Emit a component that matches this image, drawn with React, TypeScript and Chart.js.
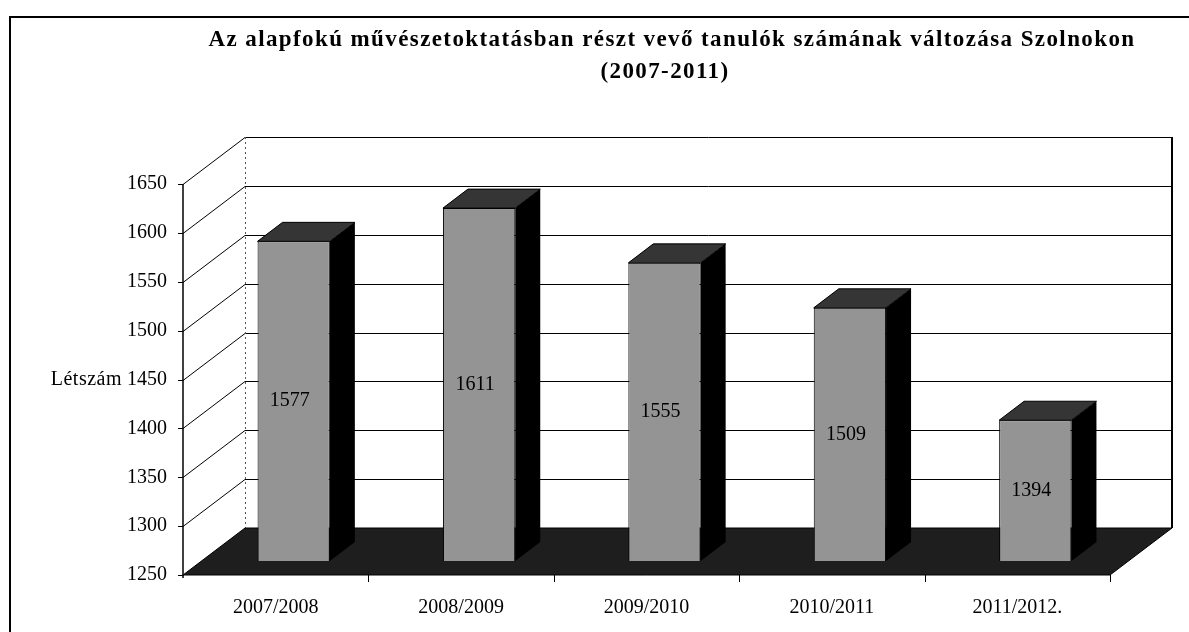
import React, { useEffect, useRef } from "react";
import { Chart, registerables } from "chart.js";

Chart.register(...registerables);

const TITLE_LINES = [
  "Az alapfokú művészetoktatásban részt vevő tanulók számának változása Szolnokon",
  "(2007-2011)",
];
const Y_TITLE = "Létszám";
const CATEGORIES = ["2007/2008", "2008/2009", "2009/2010", "2010/2011", "2011/2012."];
const VALUES = [1577, 1611, 1555, 1509, 1394];
const Y_MIN = 1250;
const Y_MAX = 1650;
const Y_STEP = 50;

const FONT = '"Liberation Serif", "Times New Roman", serif';
const WALL_DX = 62;
const WALL_DY = -47;
const BAR_DX = 18;
const BAR_DY = -14;
const BAR_DEPTH_X = 25;
const BAR_DEPTH_Y = -19;

const scenePlugin = {
  id: "scene3d",
  beforeDatasetsDraw(chart: any) {
    const { ctx, chartArea } = chart;
    const ys = chart.scales.y;
    const xs = chart.scales.x;
    const { left, right } = chartArea;
    const top = ys.getPixelForValue(Y_MAX);
    const bottom = ys.getPixelForValue(Y_MIN);
    ctx.save();
    ctx.fillStyle = "#ffffff";
    ctx.fillRect(left + WALL_DX, top + WALL_DY, right - left, bottom - top);
    ctx.strokeStyle = "#000";
    ctx.lineWidth = 1;
    ys.ticks.forEach((t: any) => {
      if (t.value <= Y_MIN) return;
      const y = Math.round(ys.getPixelForValue(t.value)) + 0.5;
      ctx.beginPath();
      ctx.moveTo(left + WALL_DX, y + WALL_DY);
      ctx.lineTo(right + WALL_DX, y + WALL_DY);
      ctx.stroke();
      ctx.beginPath();
      ctx.moveTo(left, y);
      ctx.lineTo(left + WALL_DX, y + WALL_DY);
      ctx.stroke();
    });
    ctx.save();
    ctx.setLineDash([2, 3]);
    ctx.strokeStyle = "#555";
    ctx.beginPath();
    ctx.moveTo(left + WALL_DX + 0.5, top + WALL_DY);
    ctx.lineTo(left + WALL_DX + 0.5, bottom + WALL_DY);
    ctx.stroke();
    ctx.restore();
    ctx.lineWidth = 2;
    ctx.beginPath();
    ctx.moveTo(right + WALL_DX, top + WALL_DY);
    ctx.lineTo(right + WALL_DX, bottom + WALL_DY);
    ctx.stroke();
    ctx.fillStyle = "#1e1e1e";
    ctx.beginPath();
    ctx.moveTo(left, bottom);
    ctx.lineTo(right, bottom);
    ctx.lineTo(right + WALL_DX, bottom + WALL_DY);
    ctx.lineTo(left + WALL_DX, bottom + WALL_DY);
    ctx.closePath();
    ctx.fill();
    ctx.lineWidth = 1;
    ctx.stroke();
    ctx.lineWidth = 1.5;
    ctx.beginPath();
    ctx.moveTo(left, top);
    ctx.lineTo(left, bottom + 3);
    ctx.stroke();
    ctx.lineWidth = 1;
    ys.ticks.forEach((t: any) => {
      const y = Math.round(ys.getPixelForValue(t.value)) + 0.5;
      ctx.beginPath();
      ctx.moveTo(left - 5, y);
      ctx.lineTo(left, y);
      ctx.stroke();
    });
    const n = CATEGORIES.length;
    for (let i = 1; i <= n; i++) {
      const x = i < n ? (xs.getPixelForValue(i - 1) + xs.getPixelForValue(i)) / 2 : right;
      ctx.beginPath();
      ctx.moveTo(Math.round(x) + 0.5, bottom);
      ctx.lineTo(Math.round(x) + 0.5, bottom + 7);
      ctx.stroke();
    }
    ctx.restore();
    ctx.save();
    ctx.translate(BAR_DX, BAR_DY);
  },
  afterDatasetsDraw(chart: any) {
    const { ctx } = chart;
    ctx.restore();
    const ys = chart.scales.y;
    const meta = chart.getDatasetMeta(0);
    const basePx = ys.getPixelForValue(Y_MIN);
    ctx.save();
    meta.data.forEach((el: any, i: number) => {
      const x1 = el.x - el.width / 2 + BAR_DX;
      const x2 = el.x + el.width / 2 + BAR_DX;
      const yTop = ys.getPixelForValue(VALUES[i]) + BAR_DY;
      const yBase = basePx + BAR_DY;
      ctx.fillStyle = "#000";
      ctx.beginPath();
      ctx.moveTo(x2, yTop);
      ctx.lineTo(x2 + BAR_DEPTH_X, yTop + BAR_DEPTH_Y);
      ctx.lineTo(x2 + BAR_DEPTH_X, yBase + BAR_DEPTH_Y);
      ctx.lineTo(x2, yBase);
      ctx.closePath();
      ctx.fill();
      ctx.fillStyle = "#353535";
      ctx.strokeStyle = "#000";
      ctx.lineWidth = 1;
      ctx.beginPath();
      ctx.moveTo(x1, yTop);
      ctx.lineTo(x2, yTop);
      ctx.lineTo(x2 + BAR_DEPTH_X, yTop + BAR_DEPTH_Y);
      ctx.lineTo(x1 + BAR_DEPTH_X, yTop + BAR_DEPTH_Y);
      ctx.closePath();
      ctx.fill();
      ctx.stroke();
      ctx.fillStyle = "#000";
      ctx.font = `20px ${FONT}`;
      ctx.textAlign = "center";
      ctx.textBaseline = "middle";
      ctx.fillText(String(VALUES[i]), (x1 + x2) / 2 - 4, (yTop + yBase) / 2);
    });
    ctx.restore();
  },
  afterDraw(chart: any) {
    const { ctx } = chart;
    const ys = chart.scales.y;
    ctx.save();
    ctx.strokeStyle = "#000";
    ctx.lineWidth = 2;
    ctx.beginPath();
    ctx.moveTo(10, 632);
    ctx.lineTo(10, 17);
    ctx.lineTo(1189, 17);
    ctx.stroke();
    ctx.fillStyle = "#000";
    ctx.font = `bold 23px ${FONT}`;
    (ctx as any).letterSpacing = "1.4px";
    ctx.textAlign = "center";
    ctx.textBaseline = "middle";
    ctx.fillText(TITLE_LINES[0], 672, 40);
    ctx.fillText(TITLE_LINES[1], 665, 72);
    (ctx as any).letterSpacing = "0.5px";
    ctx.font = `20px ${FONT}`;
    ctx.textAlign = "right";
    ctx.fillText(Y_TITLE, 122, ys.getPixelForValue(1450));
    ctx.restore();
  },
};

export default function App() {
  const ref = useRef<HTMLCanvasElement>(null);
  useEffect(() => {
    if (!ref.current) return;
    Chart.defaults.font.family = FONT;
    const chart = new Chart(ref.current, {
      type: "bar",
      data: {
        labels: CATEGORIES,
        datasets: [
          {
            data: VALUES,
            backgroundColor: "#949494",
            borderColor: "#000",
            borderWidth: 1,
            barPercentage: 0.39,
            categoryPercentage: 1,
          },
        ],
      },
      options: {
        responsive: false,
        animation: false,
        events: [],
        layout: { padding: { top: 184, left: 0, right: 79, bottom: 0 } },
        plugins: { legend: { display: false }, title: { display: false }, tooltip: { enabled: false } },
        scales: {
          x: {
            grid: { display: false },
            border: { display: false },
            ticks: { color: "#000", font: { size: 20, family: FONT }, padding: 13, maxRotation: 0 },
            afterFit: (s: any) => {
              s.height = 57;
            },
          },
          y: {
            min: Y_MIN,
            max: Y_MAX,
            grid: { display: false },
            border: { display: false },
            ticks: {
              stepSize: Y_STEP,
              color: "#000",
              font: { size: 20, family: FONT },
              padding: 8,
              callback: (v: any) => String(v),
            },
            afterFit: (s: any) => {
              s.width = 183;
            },
          },
        },
      },
      plugins: [scenePlugin],
    });
    return () => chart.destroy();
  }, []);
  return (
    <div style={{ position: "absolute", left: 0, top: 0, width: 1189, height: 632, background: "#fff" }}>
      <canvas ref={ref} width={1189} height={632} style={{ display: "block" }} />
    </div>
  );
}
